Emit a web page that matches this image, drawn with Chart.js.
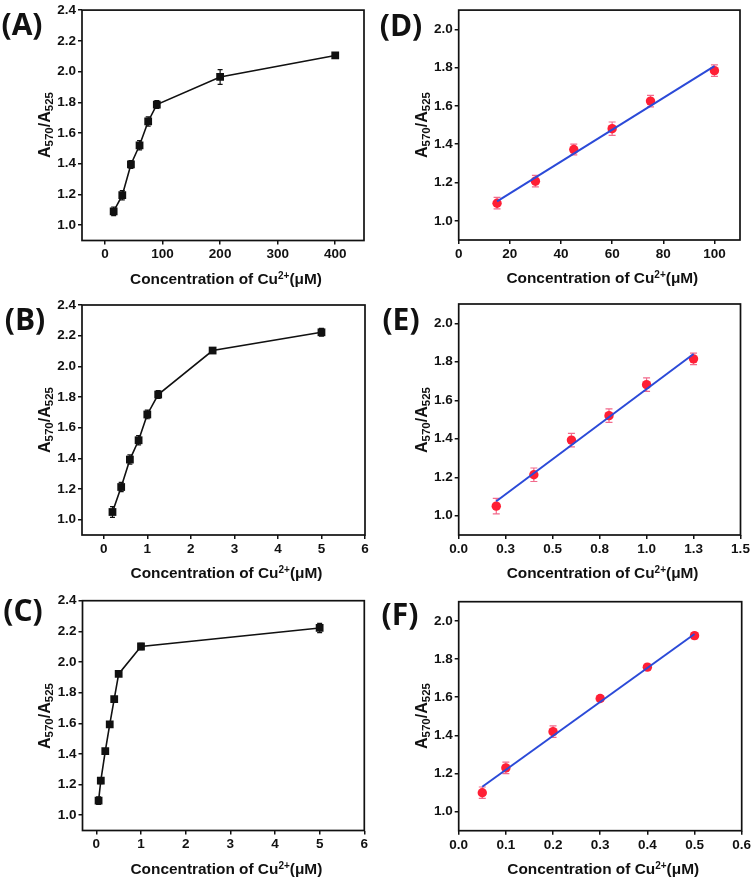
<!DOCTYPE html>
<html>
<head>
<meta charset="utf-8">
<script src="https://cdn.jsdelivr.net/npm/chart.js@4.4.0/dist/chart.umd.min.js"></script>
<style>
body{margin:0;background:#fff;}
#wrap{position:relative;width:754px;height:883px;overflow:hidden;font-family:"Liberation Sans",Arial,sans-serif;color:#111;}
.panel{position:absolute;}
.panel canvas{position:absolute;left:0;top:0;}
.lab{position:absolute;font-family:"Open Sans",sans-serif;font-weight:700;font-size:30px;line-height:1;transform:translate(-50%,-50%);white-space:nowrap;}
.xt{position:absolute;font-weight:700;font-size:15.4px;line-height:1;transform:translate(-50%,-50%);white-space:nowrap;}
.yt{position:absolute;font-weight:700;font-size:16px;line-height:1;transform:translate(-50%,-50%) rotate(-90deg);white-space:nowrap;}
sub{font-size:72%;vertical-align:-0.3em;line-height:0;}
sup{font-size:65%;vertical-align:0.55em;line-height:0;}
</style>
</head>
<body>
<div id="wrap"></div>
<script>
// --- data ---
// (A) full range, uM
const xA=[15,30,45,60,75,90,200,400];
const yA=[1.09,1.195,1.395,1.52,1.675,1.785,1.965,2.105];
const errA=[0.028,0.03,0.025,0.03,0.03,0.025,0.048,0.015];
// (B)
const xB=[0.2,0.4,0.6,0.8,1.0,1.25,2.5,5];
const yB=[1.05,1.213,1.392,1.518,1.686,1.816,2.103,2.222];
const errB=[0.035,0.03,0.03,0.03,0.028,0.025,0.015,0.025];
// (C)
const xC=[0.05,0.1,0.2,0.3,0.4,0.5,1,5];
const yC=[1.095,1.225,1.418,1.593,1.758,1.922,2.101,2.222];
const errC=[0.025,0.02,0.015,0.01,0.01,0.01,0.02,0.03];
// (D) linear part of A
const xD=[15,30,45,60,75,100];
const yD=[1.092,1.207,1.372,1.481,1.625,1.784];
const errD=[0.03,0.03,0.028,0.035,0.03,0.03];
const fitXD=[15,100], fitYD=[1.102,1.808];
// (E) linear part of B
const xE=[0.2,0.4,0.6,0.8,1.0,1.25];
const yE=[1.05,1.213,1.393,1.52,1.681,1.815];
const errE=[0.04,0.035,0.035,0.035,0.035,0.03];
const fitXE=[0.2,1.25], fitYE=[1.075,1.84];
// (F) linear part of C
const xF=[0.05,0.1,0.2,0.3,0.4,0.5];
const yF=[1.099,1.229,1.419,1.593,1.757,1.922];
const errF=[0.03,0.03,0.03,0.015,0.015,0.015];
const fitXF=[0.05,0.5], fitYF=[1.13,1.931];

// tick values / labels
const yTicksL=[1.0,1.2,1.4,1.6,1.8,2.0,2.2,2.4];
const yTicksR=[1.0,1.2,1.4,1.6,1.8,2.0];
const xTicksA=[0,100,200,300,400], xLabelsA=['0','100','200','300','400'];
const xTicksB=[0,1,2,3,4,5,6], xLabelsB=['0','1','2','3','4','5','6'];
const xTicksD=[0,20,40,60,80,100], xLabelsD=['0','20','40','60','80','100'];
const xTicksE=[0,0.25,0.5,0.75,1.0,1.25,1.5], xLabelsE=['0.0','0.3','0.5','0.8','1.0','1.3','1.5'];
const xTicksF=[0,0.1,0.2,0.3,0.4,0.5,0.6], xLabelsF=['0.0','0.1','0.2','0.3','0.4','0.5','0.6'];

const pts=(xs,ys)=>xs.map((x,i)=>({x,y:ys[i]}));

const YW=50, XH=30;
const tickFont={family:'"Liberation Sans", Arial, sans-serif',size:13.5,weight:'bold'};

const errorBars={
  id:'errorBars',
  beforeDatasetsDraw(chart){
    const ctx=chart.ctx, xs=chart.scales.x, ys=chart.scales.y;
    chart.data.datasets.forEach(ds=>{
      if(!ds.errors) return;
      ctx.save();ctx.strokeStyle=ds.errColor;ctx.lineWidth=1.2;
      ds.data.forEach((p,i)=>{
        const px=xs.getPixelForValue(p.x);
        const y1=ys.getPixelForValue(p.y+ds.errors[i]), y2=ys.getPixelForValue(p.y-ds.errors[i]);
        ctx.beginPath();
        ctx.moveTo(px,y1);ctx.lineTo(px,y2);
        ctx.moveTo(px-ds.capW,y1);ctx.lineTo(px+ds.capW,y1);
        ctx.moveTo(px-ds.capW,y2);ctx.lineTo(px+ds.capW,y2);
        ctx.stroke();
      });
      ctx.restore();
    });
  }
};
const frame={
  id:'frame',
  afterDraw(chart){
    const {ctx,chartArea:a}=chart;
    ctx.save();ctx.strokeStyle='#111';ctx.lineWidth=1.7;
    ctx.strokeRect(a.left,a.top,a.right-a.left,a.bottom-a.top);
    ctx.restore();
  }
};

function axis(min,max,ticks,labels){
  return {
    type:'linear',min,max,
    afterBuildTicks:s=>{s.ticks=ticks.map(v=>({value:v}));},
    grid:{display:true,drawOnChartArea:false,drawTicks:true,tickLength:4,color:'#111',lineWidth:1.5},
    border:{display:false},
    ticks:{color:'#111',font:tickFont,padding:2,autoSkip:false,maxRotation:0,
      callback:v=>{const i=ticks.indexOf(v);return i<0?'':labels[i];}}
  };
}

const panels=[
  {lab:'(A)',left:0,top:0,h:290,rect:[82,10,364,240.5],labXY:[22,24],x:[-40,450,xTicksA,xLabelsA],y:[0.9,2.4,yTicksL],
   sets:[{kind:'black',x:xA,y:yA,e:errA}]},
  {lab:'(B)',left:0,top:290,h:290,rect:[82,15,365,245],labXY:[25,29],x:[-0.5,6,xTicksB,xLabelsB],y:[0.9,2.4,yTicksL],
   sets:[{kind:'black',x:xB,y:yB,e:errB}]},
  {lab:'(C)',left:0,top:580,h:303,rect:[82.5,20.7,364.3,250.5],labXY:[23,30],x:[-0.31,6,xTicksB,xLabelsB],y:[0.9,2.4,yTicksL],
   sets:[{kind:'black',x:xC,y:yC,e:errC}]},
  {lab:'(D)',left:377,top:0,h:290,rect:[81.7,9.5,363,240],labXY:[24,25],x:[0,110,xTicksD,xLabelsD],y:[0.9,2.1,yTicksR],
   sets:[{kind:'fit',x:fitXD,y:fitYD},{kind:'red',x:xD,y:yD,e:errD}]},
  {lab:'(E)',left:377,top:290,h:290,rect:[81.7,14,363.5,245],labXY:[24,29],x:[0,1.5,xTicksE,xLabelsE],y:[0.9,2.1,yTicksR],
   sets:[{kind:'fit',x:fitXE,y:fitYE},{kind:'red',x:xE,y:yE,e:errE}]},
  {lab:'(F)',left:377,top:580,h:303,rect:[81.7,21.7,364.7,250.7],labXY:[23,33.5],x:[0,0.6,xTicksF,xLabelsF],y:[0.9,2.1,yTicksR],
   sets:[{kind:'fit',x:fitXF,y:fitYF},{kind:'red',x:xF,y:yF,e:errF}]}
];

const wrap=document.getElementById('wrap');
panels.forEach(p=>{
  const W=377,[L,T,R,B]=p.rect;
  const div=document.createElement('div');
  div.className='panel';
  div.style.cssText=`left:${p.left}px;top:${p.top}px;width:${W}px;height:${p.h}px;`;
  const cv=document.createElement('canvas');
  cv.width=W;cv.height=p.h;cv.style.width=W+'px';cv.style.height=p.h+'px';
  div.appendChild(cv);
  const lab=document.createElement('div');lab.className='lab';lab.textContent=p.lab;
  lab.style.left=p.labXY[0]+'px';lab.style.top=p.labXY[1]+'px';div.appendChild(lab);
  const xt=document.createElement('div');xt.className='xt';
  xt.innerHTML='Concentration of Cu<sup>2+</sup>(μM)';
  xt.style.left=((L+R)/2+3)+'px';xt.style.top=(B+38)+'px';div.appendChild(xt);
  const yt=document.createElement('div');yt.className='yt';
  yt.innerHTML='A<sub>570</sub>/A<sub>525</sub>';
  yt.style.left='45px';yt.style.top=((T+B)/2)+'px';div.appendChild(yt);
  wrap.appendChild(div);

  const datasets=p.sets.map(s=>{
    if(s.kind==='black') return {type:'line',data:pts(s.x,s.y),borderColor:'#111',borderWidth:1.6,tension:0,
      pointStyle:'rect',pointRadius:5.5,pointBackgroundColor:'#111',pointBorderWidth:0,errors:s.e,errColor:'#111',capW:2.5};
    if(s.kind==='red') return {type:'scatter',data:pts(s.x,s.y),showLine:false,pointStyle:'circle',pointRadius:4.7,
      pointBackgroundColor:'#ff1f35',pointBorderWidth:0,errors:s.e,errColor:'#f26a8c',capW:3.5};
    return {type:'line',data:pts(s.x,s.y),borderColor:'#2b4ad8',borderWidth:2,pointRadius:0,tension:0};
  });
  const xo=axis(p.x[0],p.x[1],p.x[2],p.x[3]);
  xo.afterFit=s=>{s.height=XH;};
  xo.ticks.padding=2;
  const yo=axis(p.y[0],p.y[1],p.y[2],p.y[2].map(v=>v.toFixed(1)));
  yo.afterFit=s=>{s.width=YW;};
  new Chart(cv,{
    data:{datasets},
    options:{responsive:false,animation:false,
      layout:{padding:{left:L-YW,top:T,right:W-R,bottom:p.h-B-XH}},
      plugins:{legend:{display:false},tooltip:{enabled:false}},
      scales:{x:xo,y:yo}},
    plugins:[errorBars,frame]
  });
});
</script>
</body>
</html>
